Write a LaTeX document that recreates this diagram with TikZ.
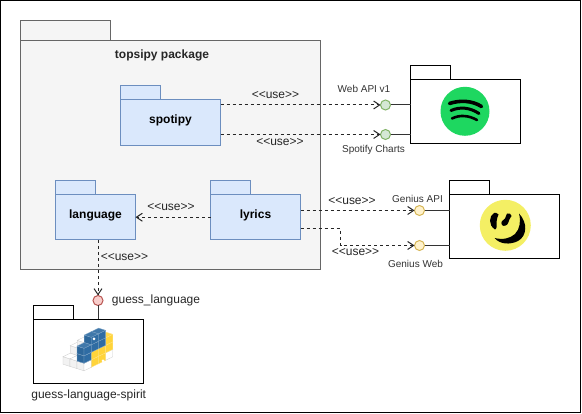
\documentclass[tikz,border=0pt]{standalone}
\usepackage{fontspec}
\setmainfont{Liberation Sans}
\usepackage{xcolor}
\usetikzlibrary{arrows.meta}
\definecolor{pkggray}{HTML}{F5F5F5}
\definecolor{pkgblue}{HTML}{DAE8FC}
\definecolor{pkgblueline}{HTML}{6C8EBF}
\definecolor{spotifygreen}{HTML}{1ED760}
\definecolor{geniusyellow}{HTML}{F4EF64}
\definecolor{pyblue}{HTML}{2F6CA3}
\definecolor{pyyellow}{HTML}{FFD43B}
\definecolor{socketgreen}{HTML}{D5E8D4}
\definecolor{socketgreenline}{HTML}{82B366}
\definecolor{socketyellow}{HTML}{FFF2CC}
\definecolor{socketyellowline}{HTML}{D6B656}
\definecolor{socketred}{HTML}{F8CECC}
\definecolor{socketredline}{HTML}{B85450}
\newcommand{\uselabel}{{<}{<}use{>}{>}}
% one cube of the python logo: i, j, k, colour
\newcommand{\pycube}[5]{
    \begin{scope}[shift={({63+7*#1+7.2*#2},{364.2+2.2*#1-3.5*#2-7.5*#3})}]
        \draw[draw=#5, fill=#4!95!black] (0,0) -- (7,2.2) -- (7,-5.3) -- (0,-7.5) -- cycle;
        \draw[draw=#5, fill=#4] (7,2.2) -- (14.2,-1.3) -- (14.2,-8.8) -- (7,-5.3) -- cycle;
        \draw[draw=#5, fill=#4!92!white] (0,-7.5) -- (7,-5.3) -- (14.2,-8.8) -- (7.2,-11) -- cycle;
    \end{scope}
}
\tikzset{
    pkgbody/.style = {draw, rectangle, inner sep=0pt, outer sep=0pt, fill=white,
        text height=9pt, text depth=6pt, font=\fontsize{12}{14}\selectfont\bfseries},
    blueblock/.style = {pkgbody, draw=pkgblueline, fill=pkgblue},
    outerblock/.style = {pkgbody, draw=black!60, fill=pkggray},
    pkgtab/.style = {draw, rectangle, inner sep=0pt, outer sep=0pt, fill=white,
        anchor=south west, minimum width=40pt, minimum height=14pt},
    socket/.style = {draw, circle, inner sep=0pt, outer sep=0pt, minimum size=10pt},
    greensocket/.style = {socket, draw=socketgreenline, fill=socketgreen},
    yellowsocket/.style = {socket, draw=socketyellowline, fill=socketyellow},
    redsocket/.style = {socket, draw=socketredline, fill=socketred},
    uses/.style = {dashed, dash pattern=on 3pt off 3pt, -{Straight Barb[length=6pt,width=8pt]}, draw=black!85},
    plug/.style = {draw=black!80},
    uselbl/.style = {inner sep=0pt, font=\fontsize{12}{14}\selectfont, text=black!85},
    apilbl/.style = {inner sep=0pt, font=\fontsize{10}{12}\selectfont, text=black!80},
    pkglbl/.style = {inner sep=0pt, font=\fontsize{12}{14}\selectfont, text=black!85},
}
\begin{document}
\begin{tikzpicture}[x=1pt,y=-1pt,line width=1pt]
    \useasboundingbox (0,0) rectangle (582,414);
    \draw (0.5,0.5) rectangle (580.5,413);

    % topsipy
    \node [outerblock, minimum width=300pt, minimum height=229.5pt] (topsipy) at (170.5,155.25) {};
    \node [pkgtab, draw=black!60, fill=pkggray, minimum width=90pt, minimum height=20pt] (topsipytab) at (topsipy.north west) {};
    \node [pkglbl, font=\fontsize{12}{14}\selectfont\bfseries] (topsipylbl) at (162,55.5) {topsipy package};

    \node [blueblock, minimum width=100pt, minimum height=46pt] (spotipy) at (170.5,122.5) {spotipy};
    \node [pkgtab, draw=pkgblueline, fill=pkgblue] (spotipytab) at (spotipy.north west) {};
    \node [blueblock, minimum width=80pt, minimum height=45.5pt] (language) at (95.5,217.25) {language};
    \node [pkgtab, draw=pkgblueline, fill=pkgblue] (languagetab) at (language.north west) {};
    \node [blueblock, minimum width=90pt, minimum height=45.5pt] (lyrics) at (255.5,217.25) {lyrics};
    \node [pkgtab, draw=pkgblueline, fill=pkgblue] (lyricstab) at (lyrics.north west) {};

    % outside packages
    \node [pkgbody, minimum width=110pt, minimum height=64pt] (spotifybox) at (465.5,112) {};
    \node [pkgtab] (spotifytab) at (spotifybox.north west) {};
    \node [pkgbody, minimum width=110pt, minimum height=64pt] (geniusbox) at (504.5,226.5) {};
    \node [pkgtab] (geniustab) at (geniusbox.north west) {};
    \node [pkgbody, minimum width=110pt, minimum height=64pt] (guessbox) at (88.5,351.5) {};
    \node [pkgtab] (guesstab) at (guessbox.north west) {};
    \node [pkglbl] (guessboxlbl) at (88.7,395) {guess-language-spirit};

    % sockets
    \node [greensocket] (webapi) at (385.5,105) {};
    \node [greensocket] (charts) at (385.5,134.5) {};
    \node [yellowsocket] (geniusapi) at (419.5,210.5) {};
    \node [yellowsocket] (geniusweb) at (419.5,245.5) {};
    \node [redsocket] (guesslang) at (98,300.5) {};
    \node [apilbl] (webapilbl) at (364,89) {Web API v1};
    \node [apilbl] (chartslbl) at (373.5,150) {Spotify Charts};
    \node [apilbl] (geniusapilbl) at (417.5,198.5) {Genius API};
    \node [apilbl] (geniusweblbl) at (415.5,263.5) {Genius Web};
    \node [pkglbl] (guesslanglbl) at (156,300) {guess\_language};

    \draw [plug] (webapi) -- (spotifybox.west |- webapi);
    \draw [plug] (charts) -- (spotifybox.west |- charts);
    \draw [plug] (geniusapi) -- (geniusbox.west |- geniusapi);
    \draw [plug] (geniusweb) -- (geniusbox.west |- geniusweb);
    \draw [plug] (guesslang) -- (guesslang |- guessbox.north);

    % dependencies
    \coordinate (webbend) at (340.5,229);
    \draw [uses] (spotipy.east |- webapi) -- (webapi);
    \draw [uses] (spotipy.east |- charts) -- (charts);
    \draw [uses] (lyrics.east |- geniusapi) -- (geniusapi);
    \draw [uses] (lyrics.east |- webbend) -- (webbend) |- (geniusweb);
    \draw [uses] (lyrics.west) -- (language.east);
    \draw [uses] (guesslang |- language.south) -- (guesslang);
    \node [uselbl] (use1) at (275.5,95) {\uselabel};
    \node [uselbl] (use2) at (280,142) {\uselabel};
    \node [uselbl] (use3) at (171,207.5) {\uselabel};
    \node [uselbl] (use4) at (352,201.5) {\uselabel};
    \node [uselbl] (use5) at (355.5,252.5) {\uselabel};
    \node [uselbl] (use6) at (124.5,257.5) {\uselabel};

    % spotify logo
    \fill [spotifygreen] (465,111.3) circle (24.5);
    \draw [line width=3.6pt, line cap=round] (449.5,103.5) .. controls (460,100) and (472,100.5) .. (481.5,106.5);
    \draw [line width=3pt, line cap=round] (451,110.5) .. controls (460,106.5) and (470,107.5) .. (479,113.5);
    \draw [line width=2.6pt, line cap=round] (452,118.5) .. controls (460,114.5) and (469,115.5) .. (477,120);

    % genius logo
    \fill [geniusyellow] (505.3,225.3) circle (25.5);
    \fill (494,213) .. controls (489,216) and (488,225) .. (495,229.5) .. controls (497,229) and (497,225) .. (496.5,222) .. controls (496.5,219) and (498,216) .. (498.5,214.5) .. controls (497,213) and (495.5,212.5) .. (494,213) -- cycle;
    \fill (507,213.5) .. controls (509,212.5) and (511.5,214) .. (511.5,216) .. controls (510,219) and (508.5,220) .. (508.5,222) .. controls (508,225.5) and (503.5,227) .. (502,225) .. controls (500,222) and (503,220) .. (505,218.5) .. controls (506,217) and (506,215) .. (507,213.5) -- cycle;
    \fill (519,213.5) .. controls (528,223) and (527,236) .. (518,241) .. controls (510,245) and (500,244.5) .. (494.5,238) .. controls (503,240) and (510,238.5) .. (515,234) .. controls (520,229) and (521,221) .. (519,213.5) -- cycle;

    % python logo
    \begin{scope}[line width=0.3pt]
    \foreach \i/\j/\k/\c/\e in {
        2/3/0/white/black!20, 2/3/1/pyyellow/pyyellow!60!white, 2/3/2/pyyellow/pyyellow!60!white,
        1/2/2/white/black!20,
        2/2/0/pyyellow/pyyellow!60!white, 2/2/1/pyyellow/pyyellow!60!white, 2/2/2/pyblue/pyblue!60!white, 2/2/3/pyblue/pyblue!60!white,
        0/1/0/white/black!20, 0/1/1/white/black!20, 1/1/0/white/black!20, 1/1/1/white/black!20, 1/1/2/white/black!20,
        2/1/0/pyyellow/pyyellow!60!white, 2/1/1/pyyellow/pyyellow!60!white, 2/1/2/pyblue/pyblue!60!white, 2/1/3/pyblue/pyblue!60!white,
        0/0/0/white/black!20, 1/0/0/white/black!20, 2/0/0/white/black!20, 2/0/1/pyblue/pyblue!60!white, 2/0/2/pyblue/pyblue!60!white}
        \pycube{\i}{\j}{\k}{\c}{\e};
    \end{scope}
    \fill [white] (94,339) circle (1.5);
    \fill [white] (103,361) circle (1.5);
\end{tikzpicture}
\end{document}
